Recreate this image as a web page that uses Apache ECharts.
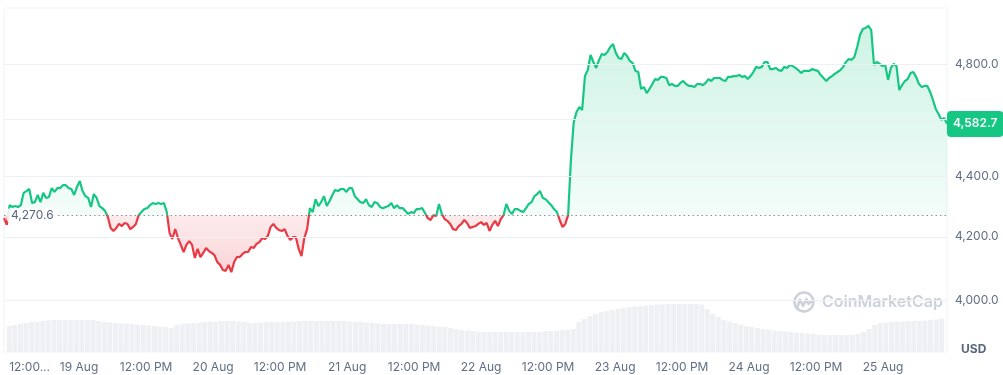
<!DOCTYPE html>
<html><head><meta charset="utf-8">
<script src="https://cdn.jsdelivr.net/npm/echarts@6/dist/echarts.min.js"></script>
<style>html,body{margin:0;padding:0;background:#fff}#c{width:1003px;height:375px}</style>
</head><body><div id="c"></div>
<script>
// ---- data ----
const startTime = new Date(2025, 7, 18, 11, 0).getTime();
const priceStepMinutes = 30;
const prices = [
4261,4239,4304,4298,4301,4298,4304,4345,4351,4358,
4311,4314,4338,4314,4345,4328,4331,4361,4348,4361,
4361,4371,4371,4361,4358,4338,4365,4385,4351,4334,
4328,4298,4341,4328,4301,4294,4285,4265,4229,4219,
4229,4242,4235,4245,4242,4225,4232,4242,4271,4281,
4291,4294,4304,4311,4308,4311,4308,4311,4281,4212,
4193,4225,4196,4174,4151,4174,4186,4174,4132,4161,
4135,4148,4164,4154,4148,4141,4119,4110,4094,4091,
4110,4087,4119,4135,4135,4145,4151,4151,4167,4164,
4177,4183,4196,4193,4203,4232,4242,4229,4222,4219,
4225,4203,4190,4199,4199,4161,4138,4196,4225,4294,
4281,4324,4301,4314,4334,4301,4318,4338,4355,4351,
4358,4358,4348,4361,4361,4334,4324,4314,4311,4324,
4304,4298,4314,4311,4298,4294,4298,4301,4311,4294,
4304,4294,4294,4285,4275,4281,4278,4291,4291,4294,
4278,4261,4255,4271,4268,4308,4275,4258,4252,4242,
4225,4222,4235,4242,4255,4245,4229,4232,4235,4242,
4248,4239,4245,4219,4239,4252,4235,4258,4271,4308,
4285,4275,4291,4291,4285,4281,4294,4308,4314,4334,
4341,4351,4328,4324,4314,4304,4291,4281,4255,4232,
4242,4271,4457,4589,4625,4643,4632,4755,4777,4833,
4807,4785,4814,4837,4833,4844,4863,4874,4841,4822,
4818,4841,4829,4811,4803,4774,4770,4708,4715,4693,
4708,4726,4744,4741,4752,4752,4748,4722,4726,4719,
4719,4730,4737,4726,4719,4719,4715,4726,4726,4722,
4730,4744,4737,4748,4748,4748,4741,4737,4752,4752,
4755,4755,4759,4752,4755,4744,4755,4770,4789,4785,
4789,4807,4807,4781,4781,4785,4777,4774,4789,4785,
4796,4792,4785,4777,4766,4774,4774,4774,4781,4777,
4774,4759,4748,4737,4748,4755,4763,4770,4777,4789,
4807,4818,4815,4826,4863,4908,4931,4935,4943,4927,
4796,4807,4800,4792,4796,4741,4785,4800,4792,4704,
4722,4737,4744,4766,4770,4752,4726,4715,4719,4719,
4697,4668,4636,4618,4597,4604,4582.7
];
const volumeStepMinutes = 60;
const volumes = [
26,27,28,29,30,30,31,31.5,32,32,32,32,32,32,32,32,31,30,29.5,29,
28.5,28.5,28,27.5,27,26.5,26,25.5,25,24,27,28,28.5,29,29.5,30,30.5,30.5,31,31,
31,30.5,30,29.5,29,29.5,30,30,30,30,30.5,30.5,31,31,31,31,31,31,31,31,
31,30.5,30,30,29.5,29,28.5,28,28,28,28,28,28,27.5,27,26.5,26,25.5,25,24,
23,22,21.5,21,20.5,20,20,20,20,20,20,20,20,20,20,20,21,21,21,22,
22,23,30,33,36,38,40,41,42,43,44,45,45.5,46,46.5,47,47.5,47.5,48,48,
48,48,48,48,47.5,43,38,35,32,30.5,29,27.5,26,25,24,23,22.5,21.5,21,20.5,
20,19.5,19,18.5,18,17.5,17,17,17,17,17,17,18,20,23,27,29,29.5,30,30.5,
30.5,31,31,31,31.5,32,32.5,33.5
];
const baselinePrice = 4270.6;
const gridPrices = [4000, 4200, 4400, 4600, 4800];
const lastPrice = prices[prices.length - 1];

// ---- helpers ----
const HOUR = 3600 * 1000;
const endTime = startTime + 168 * HOUR;
const priceData = prices.map((v, i) => [startTime + i * priceStepMinutes * 60000, v]);
const volumeData = volumes.map((v, i) => [startTime + (i + 0.5) * volumeStepMinutes * 60000, v]);
function fmt(v) {
  const s = v.toFixed(1).split('.');
  return s[0].replace(/\B(?=(\d{3})+(?!\d))/g, ',') + '.' + s[1];
}
const GREEN = '#16c784', RED = '#ea3943', GRAY = '#616e85';
const FONT = 'Inter, "Noto Sans", sans-serif';

const chart = echarts.init(document.getElementById('c'), null, {renderer: 'canvas'});

const markData = gridPrices.map(v => ({
  yAxis: v,
  lineStyle: {color: '#eceff3', width: 1, type: 'solid'},
  label: {show: Math.abs(v - lastPrice) >= 40, position: 'end', distance: 8,
          formatter: fmt(v), color: GRAY, fontSize: 12, fontFamily: FONT}
}));
markData.push({
  yAxis: baselinePrice,
  lineStyle: {color: '#8a93a3', width: 1, type: [1.5, 3]},
  label: {show: true, position: 'insideStart', distance: 3, formatter: fmt(baselinePrice),
          backgroundColor: 'rgba(255,255,255,0.85)', padding: [1, 4], borderRadius: 3,
          color: '#58667e', fontSize: 12, fontFamily: FONT}
});
markData.push({
  yAxis: lastPrice,
  lineStyle: {width: 1, color: 'rgba(0,0,0,0)'},
  label: {show: true, position: 'end', distance: 0, formatter: fmt(lastPrice),
          backgroundColor: GREEN, color: '#fff', padding: [7, 6], borderRadius: 4,
          fontSize: 12, fontWeight: 600, fontFamily: FONT, opacity: 1}
});

const option = {
  animation: false,
  backgroundColor: '#fff',
  textStyle: {fontFamily: FONT},
  grid: [
    {left: 4, right: 56, top: 8, bottom: 23, show: true, borderColor: '#eff2f5', borderWidth: 1, backgroundColor: 'transparent'},
    {left: 4, right: 56, top: 290, bottom: 23}
  ],
  xAxis: [
    {type: 'time', gridIndex: 0, min: startTime, max: endTime, show: false},
    {type: 'time', gridIndex: 1, min: startTime, max: endTime,
     minInterval: 12 * HOUR, maxInterval: 12 * HOUR,
     axisLine: {show: false}, axisTick: {show: false}, splitLine: {show: false},
     axisLabel: {
       margin: 9, color: GRAY, fontSize: 12, fontFamily: FONT, hideOverlap: false,
       formatter: function (val) {
         const d = new Date(val);
         if (d.getMinutes() !== 0) return '';
         const h = d.getHours();
         if (h === 0) return d.getDate() + ' Aug';
         if (h === 12) return (val - startTime < 12 * HOUR) ? '{f|12:00...}' : '12:00 PM';
         return '';
       },
       rich: {f: {padding: [0, 0, 0, 35], color: GRAY, fontSize: 12, fontFamily: FONT}}
     }}
  ],
  yAxis: [
    {type: 'log', gridIndex: 0, min: 3842.6, max: 5011.7, show: false, splitLine: {show: false}},
    {type: 'value', gridIndex: 1, min: 0, max: 62, show: false, splitLine: {show: false}}
  ],
  series: [
    {id: 'price', type: 'line', xAxisIndex: 0, yAxisIndex: 0, data: priceData,
     showSymbol: false, symbol: 'none', lineStyle: {width: 2.2, color: GREEN}, itemStyle: {color: GREEN}, z: 3,
     areaStyle: {origin: baselinePrice, color: 'rgba(22,199,132,0.12)'},
     markLine: {silent: true, symbol: ['none', 'none'], animation: false, data: markData}},
    {id: 'vol', type: 'bar', xAxisIndex: 1, yAxisIndex: 1, data: volumeData,
     barWidth: 5, itemStyle: {color: '#eef0f4'}, z: 1, silent: true}
  ],
  graphic: [
    {type: 'circle', shape: {cx: 804, cy: 302, r: 9.5}, style: {fill: 'none', stroke: '#ccd1da', lineWidth: 2.5}, z: 0},
    {type: 'polyline', shape: {points: [[797.5, 307], [800, 299.5], [803, 306], [806.5, 299], [808.5, 304], [812, 301]]},
     style: {fill: 'none', stroke: '#ccd1da', lineWidth: 2.5, lineJoin: 'round', lineCap: 'round'}, z: 0},
    {type: 'text', x: 822, y: 302, style: {text: 'CoinMarketCap', fill: '#ccd1da', fontSize: 16, fontWeight: 600,
      fontFamily: FONT, verticalAlign: 'middle'}, z: 0},
    {type: 'text', x: 961, y: 349, style: {text: 'USD', fill: '#58667e', fontSize: 12, fontWeight: 700,
      fontFamily: FONT, verticalAlign: 'middle'}}
  ]
};
chart.setOption(option);

// colours split at the baseline, positioned through the axis scale
const yTop = chart.convertToPixel({yAxisIndex: 0}, Math.max(...prices));
const yBase = chart.convertToPixel({yAxisIndex: 0}, baselinePrice);
const yBot = chart.convertToPixel({yAxisIndex: 0}, Math.min(...prices));
const f = (yBase - yTop) / (yBot - yTop);
const areaGrad = new echarts.graphic.LinearGradient(0, yTop, 0, yBot, [
  {offset: 0, color: 'rgba(22,199,132,0.30)'},
  {offset: f, color: 'rgba(22,199,132,0.07)'},
  {offset: f, color: 'rgba(234,57,67,0.14)'},
  {offset: 1, color: 'rgba(234,57,67,0.30)'}
], true);
const lineGrad = new echarts.graphic.LinearGradient(0, yTop, 0, yBot, [
  {offset: 0, color: GREEN},
  {offset: f, color: GREEN},
  {offset: f, color: RED},
  {offset: 1, color: RED}
], true);
chart.setOption({series: [{id: 'price', lineStyle: {width: 2.2, color: lineGrad},
  areaStyle: {origin: baselinePrice, color: areaGrad}}]});
</script>
</body></html>
